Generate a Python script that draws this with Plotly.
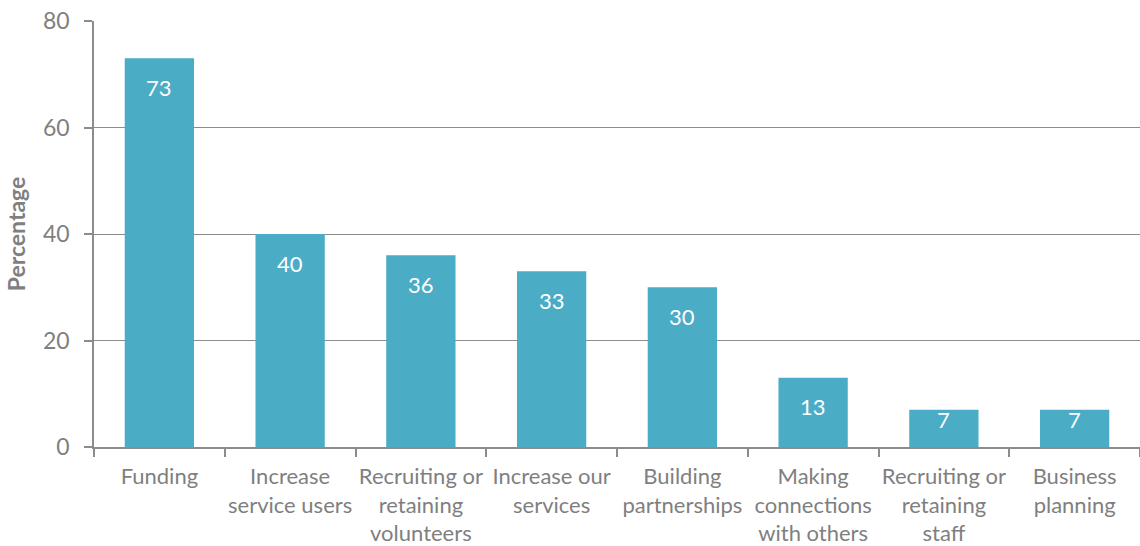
import plotly.graph_objects as go

categories = [
    "Funding",
    "Increase<br>service users",
    "Recruiting or<br>retaining<br>volunteers",
    "Increase our<br>services",
    "Building<br>partnerships",
    "Making<br>connections<br>with others",
    "Recruiting or<br>retaining<br>staff",
    "Business<br>planning",
]
percentages = [73, 40, 36, 33, 30, 13, 7, 7]
y_ticks = [0, 20, 40, 60, 80]

W, H = 1140, 546
M_L, M_R, M_T, M_B = 94, 0, 21, 99
Y_MAX = 80
BAR_COLOR = "#4BACC6"
AXIS_GRAY = "#8C8C8C"
TEXT_GRAY = "#7F7F7F"
FONT = "Lato, 'Open Sans', sans-serif"

fig = go.Figure(
    go.Bar(
        x=categories,
        y=percentages,
        marker=dict(color=BAR_COLOR, line=dict(width=0)),
        hoverinfo="skip",
    )
)

# value labels sit inside each bar near its top; short bars keep the label inside
px_per_unit = (H - M_T - M_B) / Y_MAX
annotations = []
for cat, v in zip(categories, percentages):
    bar_px = v * px_per_unit
    shift = min(29, bar_px - 28)
    annotations.append(
        dict(
            x=cat, y=v, text=str(v), showarrow=False,
            yanchor="middle", yshift=-shift,
            font=dict(family=FONT, size=22, color="white"),
        )
    )

fig.update_layout(
    width=W, height=H,
    margin=dict(l=M_L, r=M_R, t=M_T, b=M_B, pad=0),
    paper_bgcolor="white", plot_bgcolor="white",
    bargap=0.47,
    showlegend=False,
    font=dict(family=FONT, size=22, color=TEXT_GRAY),
    annotations=annotations,
    xaxis=dict(
        showline=True, linecolor=AXIS_GRAY, linewidth=1.5,
        ticks="outside", tickson="boundaries", ticklen=8,
        tickcolor=AXIS_GRAY, tickwidth=1.5,
        tickangle=0, automargin=False,
        ticklabelstandoff=9,
        tickfont=dict(family=FONT, size=22, color=TEXT_GRAY),
        showgrid=False, fixedrange=True,
    ),
    yaxis=dict(
        range=[0, Y_MAX], tickvals=y_ticks,
        showline=True, linecolor=AXIS_GRAY, linewidth=1.5,
        ticks="outside", ticklen=8, tickcolor=AXIS_GRAY, tickwidth=1.5,
        ticklabelstandoff=10, automargin=False,
        showgrid=True, gridcolor=AXIS_GRAY, gridwidth=1.2,
        zeroline=False,
        tickfont=dict(family=FONT, size=23, color=TEXT_GRAY),
        title=dict(text="<b>Percentage</b>", standoff=11,
                   font=dict(family=FONT, size=23, color=TEXT_GRAY)),
        fixedrange=True,
    ),
)

fig.write_html("out.html")
